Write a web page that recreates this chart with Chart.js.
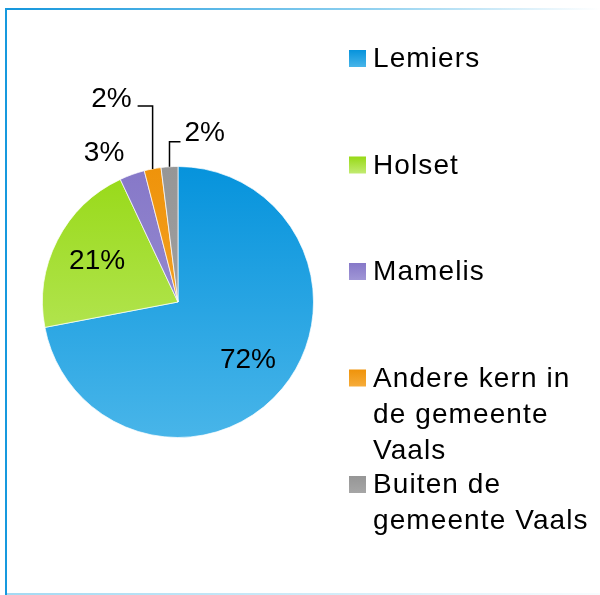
<!DOCTYPE html>
<html>
<head>
<meta charset="utf-8">
<script src="https://cdn.jsdelivr.net/npm/chart.js@4.4.0/dist/chart.umd.min.js"></script>
<style>
  body { margin: 0; background: #fff; }
  canvas { display: block; }
</style>
</head>
<body>
<canvas id="taart" width="600" height="595"></canvas>
<script>
// gegevens
const categorieen = ["Lemiers", "Holset", "Mamelis", "Andere kern in de gemeente Vaals", "Buiten de gemeente Vaals"];
const percentages = [72, 21, 3, 2, 2];
const labelTeksten = ["72%", "21%", "3%", "2%", "2%"];

// kleuren (boven -> onder verloop)
const kleurBoven = ["#0693dc", "#97d916", "#8678c8", "#ef930a", "#969696"];
const kleurOnder = ["#48b5e9", "#c2eb72", "#a096d6", "#f6ac3a", "#a6a6a6"];

// label plaatsing: binnen (fractie van straal), buiten, of met lijntje
const labelStraal = [0.67, 0.67, 1.17, 1, 1];
const lijnHoogte = [0, 0, 0, 63, 25];
const lijnBreedte = [0, 0, 0, -15, 11];

const FONT = "28px 'Liberation Sans', Arial, sans-serif";

function verloop(chart, i, top, bottom) {
  const g = chart.ctx.createLinearGradient(0, top, 0, bottom);
  g.addColorStop(0, kleurBoven[i]);
  g.addColorStop(1, kleurOnder[i]);
  return g;
}

const kaderPlugin = {
  id: "kader",
  beforeDraw(chart) {
    const ctx = chart.ctx;
    const w = chart.width, h = chart.height;
    ctx.save();
    let g = ctx.createLinearGradient(5, 0, w, 0);
    g.addColorStop(0, "#1496dc");
    g.addColorStop(0.6, "#8ccfef");
    g.addColorStop(1, "#ffffff");
    ctx.fillStyle = g;
    ctx.fillRect(5, 8, w - 5, 2);
    g = ctx.createLinearGradient(5, 0, w, 0);
    g.addColorStop(0, "#a3d9f2");
    g.addColorStop(1, "#f8fcfe");
    ctx.fillStyle = g;
    ctx.fillRect(5, h - 2, w - 5, 2);
    ctx.fillStyle = "#1799de";
    ctx.fillRect(5, 8, 2, h - 8);
    ctx.restore();
  }
};

const labelPlugin = {
  id: "labels",
  afterDatasetsDraw(chart) {
    const ctx = chart.ctx;
    const arcs = chart.getDatasetMeta(0).data;
    ctx.save();
    ctx.font = FONT;
    ctx.fillStyle = "#000";
    ctx.strokeStyle = "#000";
    ctx.lineWidth = 1.5;
    ctx.textBaseline = "middle";
    arcs.forEach((arc, i) => {
      const mid = (arc.startAngle + arc.endAngle) / 2;
      const r = arc.outerRadius;
      if (lijnHoogte[i] > 0) {
        const sx = arc.x + Math.cos(mid) * r;
        const sy = arc.y + Math.sin(mid) * r;
        const ey = sy - lijnHoogte[i];
        const ex = sx + lijnBreedte[i];
        ctx.beginPath();
        ctx.moveTo(sx, sy);
        ctx.lineTo(sx, ey);
        ctx.lineTo(ex, ey);
        ctx.stroke();
        if (lijnBreedte[i] < 0) {
          ctx.textAlign = "right";
          ctx.fillText(labelTeksten[i], ex - 6, ey - 7);
        } else {
          ctx.textAlign = "left";
          ctx.fillText(labelTeksten[i], ex + 4, ey - 8);
        }
      } else {
        const px = arc.x + Math.cos(mid) * r * labelStraal[i];
        const py = arc.y + Math.sin(mid) * r * labelStraal[i];
        if (labelStraal[i] > 1) {
          ctx.textAlign = Math.cos(mid) < 0 ? "right" : "left";
        } else {
          ctx.textAlign = "center";
        }
        ctx.fillText(labelTeksten[i], px, py);
      }
    });
    ctx.restore();
  }
};

const legendaPlugin = {
  id: "legenda",
  afterDraw(chart) {
    const ctx = chart.ctx;
    const tekstX = 373, blokX = 349, blok = 17;
    const eersteLijn = 67, stap = 106.5, regel = 36;
    const maxBreedte = chart.width - tekstX - 4;
    ctx.save();
    ctx.font = FONT;
    ctx.letterSpacing = "1.1px";
    ctx.textBaseline = "alphabetic";
    ctx.textAlign = "left";
    categorieen.forEach((naam, i) => {
      const y = eersteLijn + i * stap;
      ctx.fillStyle = verloop(chart, i, y - blok, y);
      ctx.fillRect(blokX, y - blok, blok, blok);
      // woorden afbreken
      const woorden = naam.split(" ");
      const regels = [];
      let huidig = "";
      woorden.forEach(w => {
        const probeer = huidig ? huidig + " " + w : w;
        if (huidig && ctx.measureText(probeer).width > maxBreedte) {
          regels.push(huidig);
          huidig = w;
        } else {
          huidig = probeer;
        }
      });
      regels.push(huidig);
      ctx.fillStyle = "#000";
      regels.forEach((t, j) => ctx.fillText(t, tekstX, y + j * regel));
    });
    ctx.restore();
  }
};

new Chart(document.getElementById("taart"), {
  type: "pie",
  data: {
    labels: categorieen,
    datasets: [{
      data: percentages,
      backgroundColor: (c) => {
        const area = c.chart.chartArea;
        if (!area) return kleurBoven[c.dataIndex];
        return verloop(c.chart, c.dataIndex, area.top, area.bottom);
      },
      borderColor: "rgba(255,255,255,0.7)",
      borderWidth: 1
    }]
  },
  options: {
    responsive: false,
    animation: false,
    devicePixelRatio: 1,
    layout: { padding: { left: 42, top: 166, right: 286, bottom: 157 } },
    plugins: {
      legend: { display: false },
      tooltip: { enabled: false }
    }
  },
  plugins: [kaderPlugin, labelPlugin, legendaPlugin]
});
</script>
</body>
</html>
